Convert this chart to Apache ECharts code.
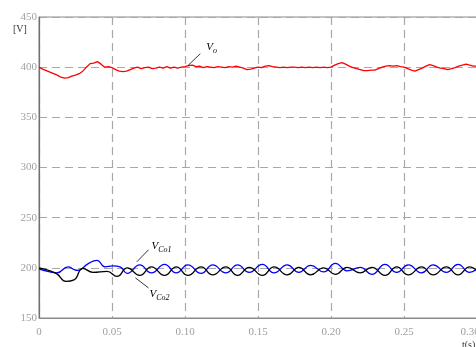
<!DOCTYPE html>
<html>
<head>
<meta charset="utf-8">
<script src="https://cdn.jsdelivr.net/npm/echarts@6/dist/echarts.min.js"></script>
<style>html,body{margin:0;padding:0;background:#fff}#c{width:476px;height:347px}</style>
</head>
<body>
<div id="c"></div>
<script>
// ---- data ----
var xTicks = [0, 0.05, 0.10, 0.15, 0.20, 0.25, 0.30];
var yTicks = [150, 200, 250, 300, 350, 400, 450];

var voT = [0,0.0025,0.005,0.0075,0.010,0.0125,0.015,0.0175,0.020,0.0225,0.025,0.0275,0.030,0.0325,0.035,0.0375,0.040,0.0425,0.045,0.0475,
0.050,0.0525,0.055,0.0575,0.060,0.0625,0.065,0.0675,0.070,0.0725,0.075,0.0775,0.080,0.0825,0.085,0.0875,0.090,0.0925,0.095,0.0975,
0.100,0.1025,0.105,0.1075,0.110,0.1125,0.115,0.1175,0.120,0.1225,0.125,0.1275,0.130,0.1325,0.135,0.1375,0.140,0.1425,0.145,0.1475,
0.150,0.1525,0.155,0.1575,0.160,0.1625,0.165,0.1675,0.170,0.1725,0.175,0.1775,0.180,0.1825,0.185,0.1875,0.190,0.1925,0.195,0.1975,
0.200,0.2025,0.205,0.2075,0.210,0.2125,0.215,0.2175,0.220,0.2225,0.225,0.2275,0.230,0.2325,0.235,0.2375,0.240,0.2425,0.245,0.2475,
0.250,0.2525,0.255,0.2575,0.260,0.2625,0.265,0.2675,0.270,0.2725,0.275,0.2775,0.280,0.2825,0.285,0.2875,0.290,0.2925,0.295,0.2975,0.300];
var voV = [400,398,396.5,395,393.5,392,390,389,389.5,391,392,393.5,396,400,403.5,404,405.5,403,400,400.5,
399.5,397.5,396,395.5,396,397.5,399,400,398.5,399.5,400,398.5,399,400,399,400.5,399,400,399,400,
400.5,401.5,402,400.5,401,399.5,400.5,400,399.5,400.5,400,399.5,400.5,400,401,400,399,397.5,398,399,
400,399.5,401,401.5,400.5,400,399.5,400,399.5,400,400,399.5,400,399.5,400,399.5,400,399.5,400,399.5,
400,402,403.5,404.5,403,401,399.5,398.5,397.5,396.5,396.5,397,397,398.5,400,401,401.5,401,401.5,400.5,
400,398.5,397,396,397.5,399,401,402.5,401.5,400,399,398.5,397.5,398.5,399.5,401,402,403,402,401,401];

var vc1T = [0,0.006,0.0123,0.0199,0.0245,0.0267,0.0335,0.0397,0.0452,0.0507,0.0555,0.0605,
0.069,0.077,0.086,0.094,0.102,0.111,0.119,0.128,0.136,0.144,0.153,0.161,0.170,0.178,0.186,0.195,
0.203,0.211,0.220,0.228,0.237,0.245,0.253,0.262,0.270,0.279,0.287,0.295,0.300];
var vc1V = [199,196.5,195,201,198,197.5,204,207.5,201,202,201,194.5,
203,195,203.5,195,203,194.5,203,195,203,195.5,203.5,195,203,195.5,202.5,196,
204.5,197,200.5,193.5,203.5,195.5,203,195,203,195.5,203.5,195.5,199];

var vc2T = [0,0.0075,0.0123,0.0185,0.024,0.030,0.037,0.0466,0.0534,0.0605,
0.069,0.077,0.086,0.094,0.102,0.111,0.119,0.128,0.136,0.144,0.153,0.161,0.170,0.178,0.186,0.195,
0.203,0.211,0.220,0.228,0.237,0.245,0.253,0.262,0.270,0.279,0.287,0.295,0.300];
var vc2V = [200,197,194,186.5,188,199.5,195.5,196.5,191.5,200,
192.5,201,192.5,201,192.5,201,193,201,192.5,200.5,192.5,201,193,200.5,193,200,
193.5,200.5,195,200.5,192.5,201,193,201,193,201,193,201,197];

// annotation anchors (data coordinates) : [from, to]
var voLeader = [[0.1020, 401.5], [0.1105, 413.5]];
var c1Leader = [[0.0670, 206], [0.0750, 218]];
var c2Leader = [[0.0660, 190], [0.0750, 180]];

function pairs(t, v) { return t.map(function (x, i) { return [x, v[i]]; }); }

var serif = '"Liberation Serif","DejaVu Serif",serif';
var chart = echarts.init(document.getElementById('c'), null, {renderer: 'canvas'});
var xMax = xTicks[xTicks.length - 1];
var option = {
  animation: false,
  grid: {left: 39, top: 17, width: 438, height: 301, containLabel: false, outerBoundsMode: 'none',
    show: true, borderColor: '#8a8a8a', borderWidth: 1, backgroundColor: 'transparent'},
  xAxis: {
    type: 'value', min: xTicks[0], max: xMax, interval: 0.05,
    axisLine: {show: true, lineStyle: {color: '#8a8a8a', width: 1}},
    axisTick: {show: false},
    axisLabel: {color: '#a0a0a0', fontFamily: serif, fontSize: 11, margin: 9, hideOverlap: false,
      formatter: function (v) {
        if (v === 0) return '0';
        if (Math.abs(v - xMax) < 1e-9) return '{m|' + v.toFixed(2) + '}';
        return v.toFixed(2);
      },
      rich: {m: {color: '#a0a0a0', fontFamily: serif, fontSize: 11, padding: [0, 14, 0, 0]}}},
    splitLine: {show: true, lineStyle: {color: '#a8a8a8', type: [8, 5], width: 1.2}}
  },
  yAxis: {
    type: 'value', min: yTicks[0], max: yTicks[yTicks.length - 1], interval: 50,
    axisLine: {show: true, lineStyle: {color: '#707070', width: 1.2}},
    axisTick: {show: false},
    axisLabel: {color: '#a0a0a0', fontFamily: serif, fontSize: 11, margin: 2},
    splitLine: {show: true, lineStyle: {color: '#a8a8a8', type: [8, 5], width: 1.2}}
  },
  series: [
    {type: 'line', data: pairs(voT, voV), showSymbol: false, lineStyle: {color: '#ff0000', width: 1.3}, smooth: false},
    {type: 'line', data: pairs(vc1T, vc1V), showSymbol: false, lineStyle: {color: '#0000ff', width: 1.3}, smooth: 0.5},
    {type: 'line', data: pairs(vc2T, vc2V), showSymbol: false, lineStyle: {color: '#000000', width: 1.3}, smooth: 0.5}
  ]
};
chart.setOption(option);

function px(p) { return chart.convertToPixel({gridIndex: 0}, p); }
function leader(seg) {
  var a = px(seg[0]), b = px(seg[1]);
  return {type: 'line', shape: {x1: a[0], y1: a[1], x2: b[0], y2: b[1]}, style: {stroke: '#000', lineWidth: 0.8}, z: 10};
}
function label(anchor, sub, dx, dy) {
  var p = px(anchor);
  return {type: 'text', x: p[0] + dx, y: p[1] + dy, z: 10,
    style: {text: '{v|V}{s|' + sub + '}', fill: '#000', rich: {
      v: {fontFamily: serif, fontStyle: 'italic', fontSize: 11, fill: '#000'},
      s: {fontFamily: serif, fontStyle: 'italic', fontSize: 8, fill: '#000', padding: [8, 0, 0, 0]}
    }}};
}
chart.setOption({graphic: [
  leader(voLeader), leader(c1Leader), leader(c2Leader),
  label(voLeader[1], 'o', 6, -15),
  label(c1Leader[1], 'Co1', 3, -12),
  label(c2Leader[1], 'Co2', 1, -2),
  {type: 'text', x: 13, y: 24, style: {text: '[V]', fill: '#333', font: '10px ' + serif}},
  {type: 'text', x: 462, y: 340, style: {text: 't(s)', fill: '#333', font: '10px ' + serif}}
]});
</script>
</body>
</html>
